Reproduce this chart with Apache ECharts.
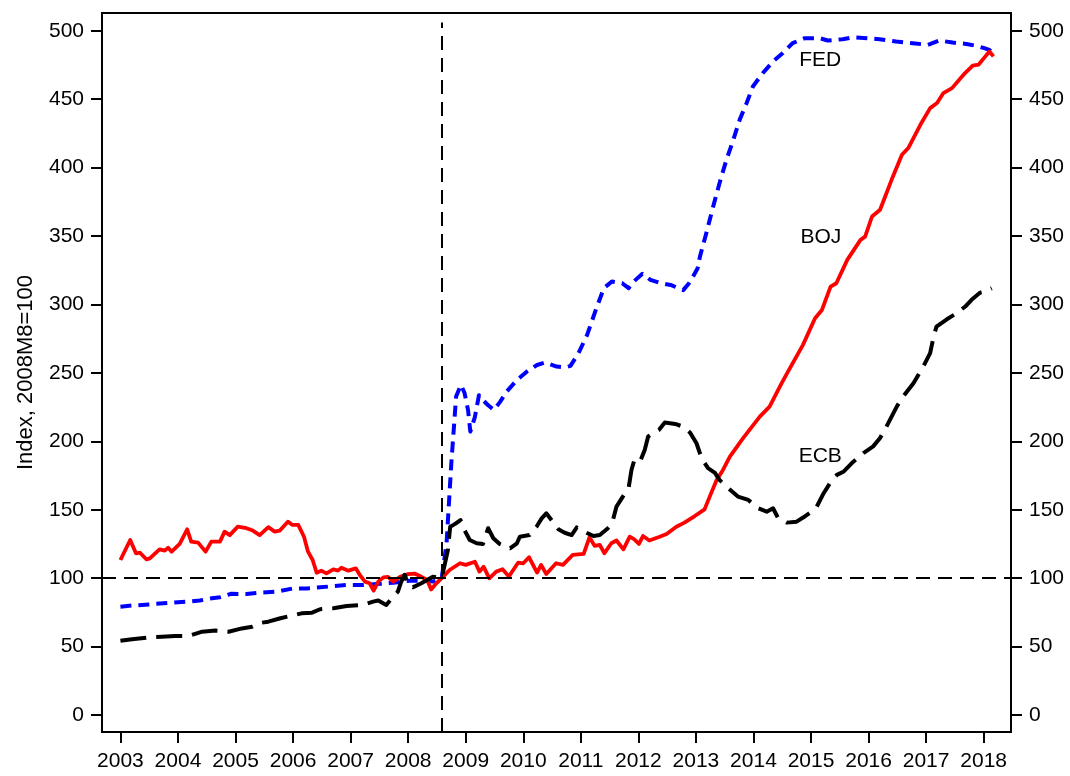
<!DOCTYPE html>
<html>
<head>
<meta charset="utf-8">
<script src="https://cdn.jsdelivr.net/npm/echarts@6/dist/echarts.min.js"></script>
<style>
html,body{margin:0;padding:0;background:#fff;}
#chart{width:1070px;height:776px;}
</style>
</head>
<body>
<div id="chart"></div>
<script>
// ---- data (decimal year, index 2008M8 = 100) ----
const yearTicks = [2003,2004,2005,2006,2007,2008,2009,2010,2011,2012,2013,2014,2015,2016,2017,2018];
const valueTicks = [0,50,100,150,200,250,300,350,400,450,500];
const axisName = 'Index, 2008M8=100';
const breakDate = 2008.583;
const baseLevel = 100;

const fed = [[2003.00,79.2],[2003.2,80.0],[2003.49,80.8],[2003.85,82.0],[2004.13,82.7],[2004.38,83.7],[2004.55,85.1],[2004.73,86.1],[2004.93,88.6],[2005.19,88.4],[2005.42,89.4],[2005.71,90.1],[2006.00,92.5],[2006.23,92.5],[2006.47,93.3],[2006.70,94.2],[2006.93,95],[2007.22,95],[2007.45,95.7],[2007.74,96.7],[2008.03,98.2],[2008.29,98.2],[2008.43,97.5],[2008.583,100],[2008.667,125.5],[2008.75,184],[2008.833,232.7],[2008.917,241.2],[2008.98,235.3],[2009.04,223],[2009.08,207.1],[2009.16,217.9],[2009.23,233.7],[2009.30,230],[2009.39,226.4],[2009.49,223],[2009.60,229],[2009.71,236.3],[2009.89,244.8],[2010.06,250.9],[2010.24,255.8],[2010.38,257.6],[2010.58,254.6],[2010.73,254.1],[2010.82,255.1],[2010.96,264.4],[2011.11,277.8],[2011.25,294.8],[2011.40,311.9],[2011.54,316.8],[2011.72,315.5],[2011.83,311.9],[2011.92,316.8],[2012.07,322.4],[2012.21,318],[2012.39,315.5],[2012.56,314.3],[2012.78,310.5],[2012.88,315.5],[2012.95,320.4],[2013.03,326.5],[2013.07,335],[2013.18,352.1],[2013.30,371.6],[2013.41,388.6],[2013.53,405.7],[2013.65,420.3],[2013.76,434.9],[2013.88,447.1],[2013.99,459.3],[2014.16,469],[2014.34,477.6],[2014.51,483.7],[2014.68,491],[2014.89,494.6],[2015.15,494.6],[2015.29,492.9],[2015.55,493.8],[2015.73,495.3],[2015.99,494.6],[2016.19,493.8],[2016.48,492.1],[2016.77,490.9],[2017.03,489.7],[2017.23,492.9],[2017.46,491.4],[2017.70,490.4],[2017.87,489],[2018.01,487.3],[2018.10,486],[2018.16,483.6]];

const boj = [[2003.00,113.3],[2003.17,127.9],[2003.27,118.2],[2003.34,118.6],[2003.45,113.8],[2003.51,114.5],[2003.68,121.1],[2003.77,120.1],[2003.83,122.3],[2003.89,119.4],[2004.03,125],[2004.16,135.7],[2004.23,126.7],[2004.35,126],[2004.48,119.4],[2004.58,126.7],[2004.73,126.7],[2004.81,134],[2004.90,131.5],[2005.04,137.7],[2005.19,136.5],[2005.30,134.8],[2005.42,131.5],[2005.57,137.3],[2005.68,134],[2005.77,134.8],[2005.91,141.3],[2005.99,138.9],[2006.09,138.9],[2006.19,130.3],[2006.26,119.4],[2006.34,113.3],[2006.41,104],[2006.49,105.5],[2006.58,103.5],[2006.70,106.5],[2006.78,105.5],[2006.84,107.6],[2006.96,105.5],[2007.09,107.2],[2007.16,102.3],[2007.25,97.5],[2007.33,96.3],[2007.40,90.9],[2007.48,97.5],[2007.57,100.6],[2007.65,101],[2007.74,97.5],[2007.86,101],[2008.00,103],[2008.11,103.4],[2008.23,101],[2008.33,98.7],[2008.40,91.8],[2008.49,96.3],[2008.583,100],[2008.72,106],[2008.90,110.9],[2009.00,109.7],[2009.16,112],[2009.24,104.8],[2009.31,108.4],[2009.41,99.9],[2009.53,104.8],[2009.64,106.5],[2009.75,101.2],[2009.91,111.3],[2010.00,110.9],[2010.10,115.3],[2010.24,104.1],[2010.31,109.7],[2010.40,103.1],[2010.57,110.9],[2010.69,109.7],[2010.86,117],[2011.05,117.7],[2011.15,129.9],[2011.24,123.6],[2011.33,124.4],[2011.41,118.2],[2011.53,125.5],[2011.62,127.5],[2011.74,121.1],[2011.85,130.3],[2011.93,128.4],[2012.01,125],[2012.08,130.8],[2012.19,127.5],[2012.37,130.3],[2012.49,132.3],[2012.66,137.6],[2012.80,140.6],[2012.98,145.4],[2013.15,150.3],[2013.24,159.6],[2013.36,171.8],[2013.47,179.1],[2013.59,188.8],[2013.82,202.3],[2014.11,218.1],[2014.28,225.4],[2014.49,242.5],[2014.60,251],[2014.86,270.5],[2015.07,290],[2015.19,296],[2015.34,313.1],[2015.44,315.5],[2015.63,332.6],[2015.86,347.2],[2015.94,349.6],[2016.06,364.3],[2016.20,369.2],[2016.40,391.1],[2016.58,409.4],[2016.69,414.3],[2016.90,431.3],[2017.07,443.5],[2017.19,447.2],[2017.30,454.5],[2017.45,458.1],[2017.65,467.9],[2017.81,474.5],[2017.91,475.2],[2018.03,481.3],[2018.10,484.9],[2018.17,481.3]];

const ecb = [[2003.0,54.3],[2003.2,55.3],[2003.49,56.7],[2003.72,57.2],[2003.95,57.7],[2004.18,57.7],[2004.42,60.9],[2004.65,61.7],[2004.88,60.9],[2005.11,63.3],[2005.29,64.5],[2005.46,67.5],[2005.57,68.2],[2005.78,70.7],[2005.95,72.4],[2006.15,74.3],[2006.33,74.8],[2006.47,77.3],[2006.70,78],[2006.93,79.7],[2007.22,80.4],[2007.39,82.9],[2007.48,83.7],[2007.62,80.4],[2007.74,86.5],[2007.82,90.1],[2007.88,97.5],[2007.94,102.5],[2008.00,95],[2008.08,93.3],[2008.23,96.3],[2008.35,99.2],[2008.43,101],[2008.583,100],[2008.69,120.6],[2008.73,137.6],[2008.81,139.5],[2008.91,142.5],[2008.98,135],[2009.07,127.9],[2009.19,125.5],[2009.30,125],[2009.39,136.5],[2009.48,129.2],[2009.59,125],[2009.77,121.8],[2009.89,125.5],[2009.94,130.3],[2010.11,131.5],[2010.23,137.6],[2010.32,143.7],[2010.40,147.4],[2010.49,142.5],[2010.61,135.7],[2010.72,133.2],[2010.84,131.5],[2010.93,137.1],[2011.10,133.2],[2011.22,130.8],[2011.33,131.5],[2011.45,135.7],[2011.54,139.5],[2011.62,152.3],[2011.73,159.6],[2011.83,165.7],[2011.88,179.1],[2011.93,186.4],[2012.03,185.2],[2012.11,193.7],[2012.17,203.5],[2012.26,205.9],[2012.36,208.4],[2012.46,213.7],[2012.64,212.7],[2012.78,210.7],[2012.90,206.3],[2013.01,198.6],[2013.10,187.6],[2013.21,180.4],[2013.33,177],[2013.41,171.8],[2013.53,167],[2013.73,159.6],[2013.91,157.2],[2014.08,151.1],[2014.23,148.6],[2014.34,151.1],[2014.43,143.8],[2014.58,140.6],[2014.75,141.3],[2014.87,144.5],[2015.01,148.6],[2015.10,152.3],[2015.22,162.1],[2015.33,169.4],[2015.45,175.5],[2015.57,178],[2015.71,184.1],[2015.91,191.4],[2016.08,196.3],[2016.20,202.4],[2016.31,210.7],[2016.49,225.4],[2016.60,232.7],[2016.78,242.5],[2016.95,254.6],[2017.07,264.4],[2017.13,276.5],[2017.18,283.8],[2017.36,289.2],[2017.53,293.6],[2017.68,298.5],[2017.79,303.4],[2017.94,308.7],[2018.02,309.5],[2018.14,311.9]];

const labelNames = ['FED','BOJ','ECB'];
const labelPos = [[2015.16,478.8],[2015.17,348.9],[2015.16,189.2]];

// ---- chart ----
const FONT = '"Liberation Sans", Arial, sans-serif';
const chart = echarts.init(document.getElementById('chart'), null, {renderer:'canvas'});

function yAxisCfg(pos){
  return {
    type:'value', position:pos, min:-12.4, max:513,
    name: pos==='left' ? axisName : '',
    nameLocation:'middle', nameRotate:90, nameGap:65,
    nameTextStyle:{fontFamily:FONT, fontSize:22, color:'#000'},
    axisLine:{show:true, onZero:false, lineStyle:{color:'#000', width:2}},
    axisTick:{show:true, inside:false, length:11, customValues:valueTicks, lineStyle:{color:'#000', width:2}},
    axisLabel:{show:true, margin:18, customValues:valueTicks, fontFamily:FONT, fontSize:21, color:'#000', formatter:v=>String(v)},
    splitLine:{show:false}
  };
}

chart.setOption({
  animation:false,
  backgroundColor:'#fff',
  grid:{left:102, right:59, top:13, bottom:44, show:true, borderColor:'#000', borderWidth:2, containLabel:false},
  xAxis:{
    type:'value', min:2002.68, max:2018.475,
    axisLine:{show:true, onZero:false, lineStyle:{color:'#000', width:2}},
    axisTick:{show:true, length:11, customValues:yearTicks, lineStyle:{color:'#000', width:2}},
    axisLabel:{show:true, margin:19, customValues:yearTicks, fontFamily:FONT, fontSize:21, color:'#000', formatter:v=>String(v)},
    splitLine:{show:false}
  },
  yAxis:[yAxisCfg('left'), yAxisCfg('right')],
  series:[
    {
      name:'FED', type:'line', data:fed, showSymbol:false, symbol:'none',
      lineStyle:{color:'#0000FF', width:4, type:[11,7], cap:'butt', join:'round'},
      markLine:{
        silent:true, symbol:['none','none'], label:{show:false},
        lineStyle:{color:'#000', width:2, type:[14,8]},
        data:[
          {yAxis:baseLevel},
          [{coord:[breakDate,-12.4]},{coord:[breakDate,506]}]
        ]
      }
    },
    {
      name:'BOJ', type:'line', data:boj, showSymbol:false, symbol:'none',
      lineStyle:{color:'#FF0000', width:3.8, type:'solid', join:'round'}
    },
    {
      name:'ECB', type:'line', data:ecb, showSymbol:false, symbol:'none',
      lineStyle:{color:'#000000', width:4, type:[26,10], cap:'butt', join:'round'}
    },
    {
      name:'labels', type:'scatter', symbolSize:0, silent:true,
      itemStyle:{opacity:1, color:'#000'},
      data:labelPos.map((p,i)=>({value:p, name:labelNames[i]})),
      label:{show:true, position:'inside', formatter:p=>p.name, fontFamily:FONT, fontSize:21, color:'#000', opacity:1, textBorderWidth:0}
    }
  ]
});
</script>
</body>
</html>
